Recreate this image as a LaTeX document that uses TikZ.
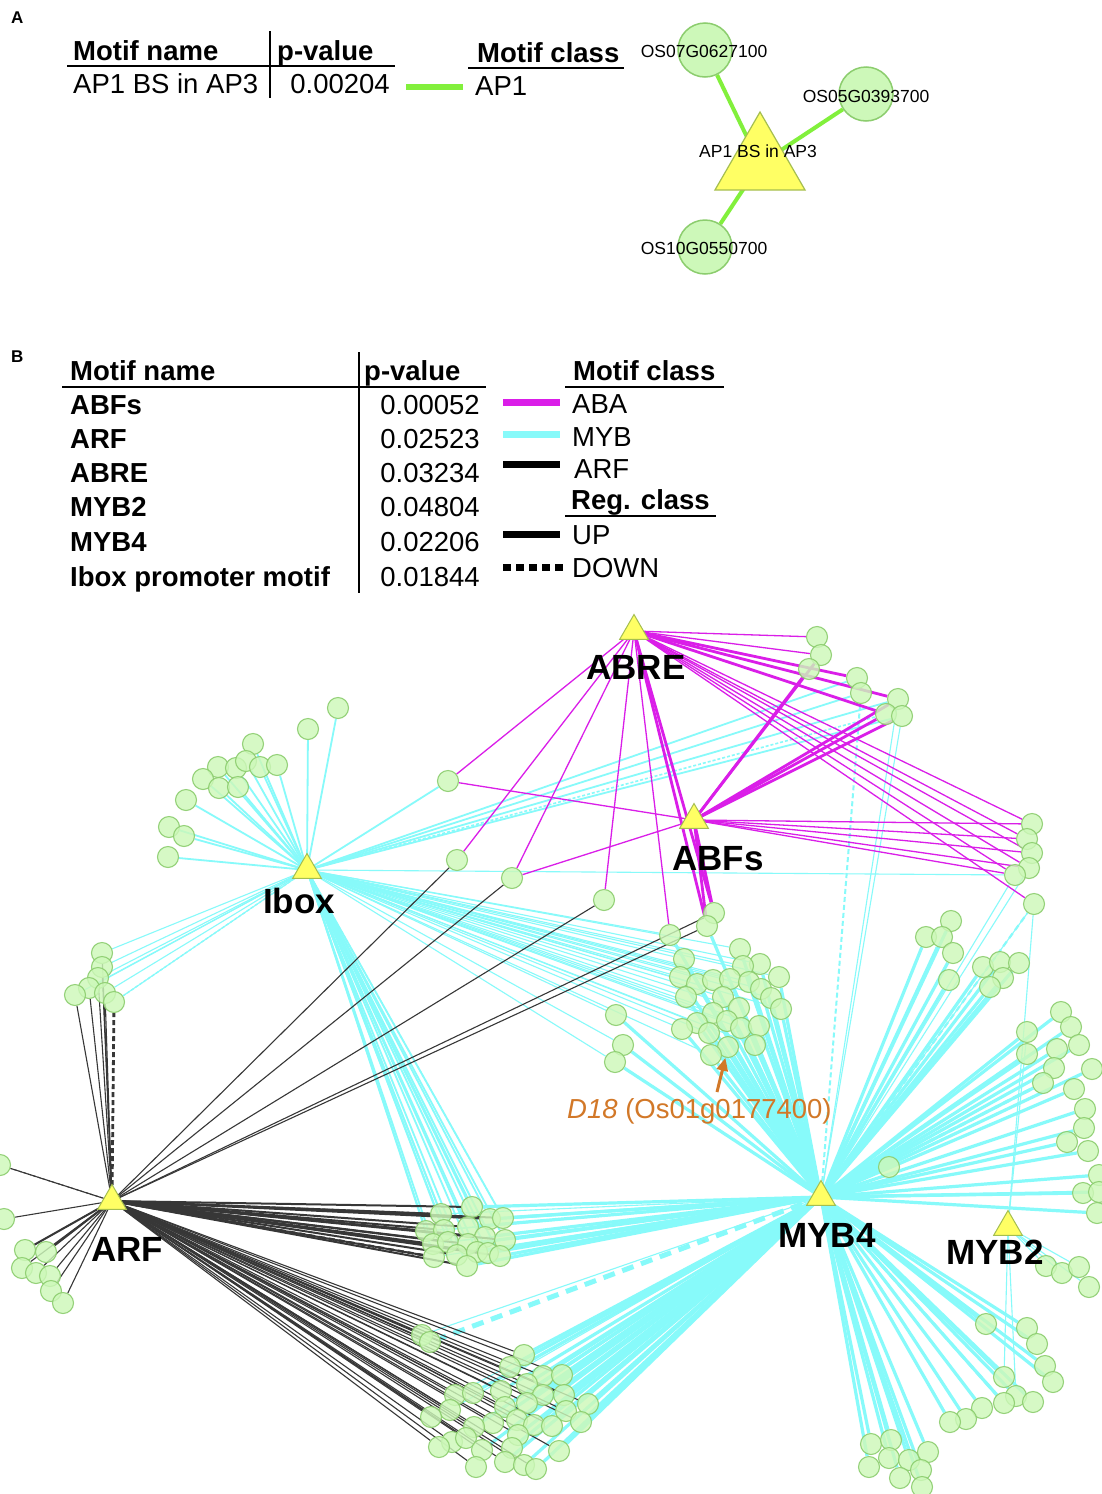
\documentclass[tikz,border=0pt]{standalone}
\usepackage{fontspec}
\setmainfont{Liberation Sans}
\usetikzlibrary{shapes.geometric,backgrounds,arrows.meta}
\pgfdeclarelayer{bottom}
\pgfsetlayers{bottom,background,main}
\definecolor{gfill}{RGB}{205,248,185}
\definecolor{gdraw}{RGB}{140,205,110}
\definecolor{tfill}{RGB}{255,255,100}
\definecolor{tdraw}{RGB}{165,190,80}
\definecolor{mag}{RGB}{218,30,232}
\definecolor{cya}{RGB}{135,250,250}
\definecolor{dk}{RGB}{55,55,55}
\definecolor{apg}{RGB}{130,240,60}
\definecolor{org}{RGB}{210,120,40}
\begin{document}
\begin{tikzpicture}[x=1pt,y=-1pt,
 gene/.style={circle,fill=gfill,fill opacity=0.82,draw=gdraw,draw opacity=0.9,line width=1.1pt,minimum size=21pt,inner sep=0},
 bigg/.style={circle,fill=gfill,draw=gdraw,line width=1.5pt,minimum size=54pt,inner sep=0},
 hub/.style={regular polygon,regular polygon sides=3,fill=tfill,draw=tdraw,line width=1pt,minimum size=33pt,inner sep=0},
 bighub/.style={regular polygon,regular polygon sides=3,fill=tfill,draw=tdraw,line width=1.2pt,minimum size=104pt,inner sep=0},
 hd/.style={font=\bfseries\fontsize{27.5}{31}\selectfont,anchor=base west,inner sep=0},
 tx/.style={font=\fontsize{27.5}{31}\selectfont,anchor=base west,inner sep=0},
 txr/.style={font=\fontsize{27.5}{31}\selectfont,anchor=base east,inner sep=0},
 hubl/.style={font=\bfseries\fontsize{35}{38}\selectfont,anchor=base,inner sep=0},
 small/.style={font=\fontsize{17.5}{20}\selectfont,inner sep=0},
 rule/.style={line width=1.6pt,black},
 magt/.style={mag,line width=1.3pt},
 magk/.style={mag,line width=2.8pt},
 cyt/.style={cya,line width=1.1pt},
 cym/.style={cya,line width=1.8pt},
 cyk/.style={cya,line width=3.2pt},
 dkt/.style={dk,line width=1.1pt},
 dkm/.style={dk,line width=2pt}]
\useasboundingbox (0,0) rectangle (1102,1494);
\begin{pgfonlayer}{bottom}
\fill[white] (0,0) rectangle (1102,1494);
\end{pgfonlayer}

% ---------------- Panel A ----------------
\node[font=\bfseries\fontsize{17}{20}\selectfont,anchor=base west,inner sep=0] (labA) at (11,23) {A};
\node[hd] (amn) at (73,60) {Motif name};
\node[hd] (apv) at (277,60) {p-value};
\node[hd] (amc) at (477,62) {Motif class};
\node[tx] (aname) at (73,93) {AP1 BS in AP3};
\node[txr] (apval) at (390,93) {0.00204};
\node[tx] (aclass) at (475,95) {AP1};
\draw[rule] (67,66) -- (395,66);
\draw[rule] (270,31) -- (270,98);
\draw[rule] (468,68) -- (624,68);
\draw[apg,line width=6.5pt] (406,87) -- (463,87);

\node[bigg] (g1) at (705,50) {};
\node[bigg] (g2) at (866,94) {};
\node[bigg] (g3) at (705,247) {};
\node[bighub] (AP) at (760,164) {};
\begin{pgfonlayer}{background}
\foreach \g in {g1,g2,g3} \draw[apg,line width=4pt] (AP.center) -- (\g);
\end{pgfonlayer}
\node[small] (g1l) at (704,51) {OS07G0627100};
\node[small] (g2l) at (866,96) {OS05G0393700};
\node[small] (g3l) at (704,248) {OS10G0550700};
\node[small] (APl) at (758,151) {AP1 BS in AP3};

% ---------------- Panel B table ----------------
\node[font=\bfseries\fontsize{17}{20}\selectfont,anchor=base west,inner sep=0] (labB) at (11,362) {B};
\node[hd] (bmn) at (70,380) {Motif name};
\node[hd] (bpv) at (364,380) {p-value};
\node[hd] (bmc) at (573,380) {Motif class};
\draw[rule] (62,387) -- (486,387);
\draw[rule] (359,352) -- (359,593);
\draw[rule] (565,387) -- (724,387);
\foreach \nm/\pv/\yy in {ABFs/0.00052/414, ARF/0.02523/448, ABRE/0.03234/482, MYB2/0.04804/516, MYB4/0.02206/551, Ibox promoter motif/0.01844/586}{
  \node[hd] at (70,\yy) {\nm};
  \node[txr] at (480,\yy) {\pv};
}
\draw[mag,line width=7pt] (503,402) -- (560,402);
\draw[cya,line width=7pt] (503,434) -- (560,434);
\draw[black,line width=7pt] (503,464) -- (560,464);
\node[tx] (lABA) at (572,413) {ABA};
\node[tx] (lMYB) at (572,446) {MYB};
\node[tx] (lARF) at (574,478) {ARF};
\node[hd] (lreg) at (571,509) {Reg. class};
\draw[rule] (565,516) -- (716,516);
\draw[black,line width=7pt] (503,534) -- (560,534);
\draw[black,line width=7pt,dash pattern=on 8pt off 5pt] (503,567) -- (563,567);
\node[tx] (lUP) at (572,544) {UP};
\node[tx] (lDN) at (572,577) {DOWN};

% ---------------- Panel B network: genes ----------------
\foreach \n/\x/\y in {
 t1/817/637, t2/821/655, t3/809/669, t4/857/678, t5/861/693, t6/898/699, t7/886/714, t8/902/716,
 r1/1032/824, r2/1027/839, r3/1032/853, r4/1029/868, r5/1015/875, r6/1034/904,
 m1/448/781, m2/457/860, m3/512/878, m4/604/900, m5/714/913, m6/707/926, m7/670/935,
 i1/338/708, i2/308/729, i3/253/744, i4/218/767, i5/236/768, i6/246/761, i7/260/767, i8/277/765,
 i9/203/779, i10/219/788, i11/238/787, i12/186/800, i13/169/827, i14/184/836, i15/168/857,
 a1/102/953, a2/102/967, a3/98/978, a4/89/988, a5/75/995, a6/105/993, a7/114/1002,
 l1/0/1165, l2/4/1219, l3/25/1250, l4/46/1252, l5/22/1268, l6/36/1273, l7/50/1276, l8/51/1291, l9/63/1303,
 c1/472/1207, c2/441/1214, c3/490/1219, c4/503/1218, c5/426/1231, c6/444/1230, c7/468/1227, c8/485/1237,
 c9/505/1240, c10/433/1244, c11/448/1242, c12/468/1244, c13/457/1255, c14/477/1252, c15/488/1253,
 c16/500/1256, c17/434/1257, c18/467/1266,
 d1/422/1335, d2/430/1342, d3/524/1355, d4/510/1367, d5/543/1376, d6/562/1375, d7/527/1384, d8/455/1395,
 d9/473/1393, d10/501/1391, d11/543/1395, d12/564/1395, d13/588/1404, d14/505/1407, d15/527/1403,
 d16/566/1411, d17/450/1410, d18/431/1417, d19/493/1423, d20/517/1420, d21/534/1425, d22/552/1426,
 d23/581/1422, d24/474/1427, d25/452/1442, d26/466/1438, d27/518/1435, d28/439/1447, d29/482/1450,
 d30/512/1448, d31/559/1451, d32/476/1467, d33/505/1462, d34/524/1465, d35/536/1469,
 n1/740/949, n2/684/959, n3/760/964, n4/743/966, n5/779/977, n6/680/977, n7/697/984, n8/713/980,
 n9/730/979, n10/749/982, n11/761/989, n12/771/998, n13/781/1009, n14/686/997, n15/723/997,
 n16/739/1008, n17/713/1013, n18/727/1021, n19/741/1028, n20/759/1026, n21/697/1023, n22/682/1029,
 n23/709/1033, n24/728/1047, n25/711/1055, n26/755/1045, n27/616/1015, n28/623/1045, n29/615/1062,
 u1/951/921, u2/926/937, u3/942/937, u4/953/953, u5/949/980, u6/983/967, u7/1000/962, u8/1019/963,
 u9/1003/978, u10/990/987,
 v1/1061/1012, v2/1027/1032, v3/1071/1027, v4/1027/1054, v5/1057/1049, v6/1079/1045, v7/1054/1068,
 v8/1092/1069, v9/1043/1083, v10/1074/1089, v11/1085/1109, v12/1084/1128, v13/1067/1142, v14/1088/1151,
 v15/889/1167, v16/1099/1175, v17/1083/1193, v18/1099/1192, v19/1097/1213,
 w1/1046/1266, w2/1062/1273, w3/1079/1267, w4/1089/1287,
 x1/986/1324, x2/1027/1328, x3/1037/1344, x4/1045/1366, x5/1053/1382, x6/1004/1377, x7/1016/1396,
 x8/1033/1402, x9/1004/1403, x10/982/1408, x11/966/1419, x12/950/1422,
 y1/871/1444, y2/891/1440, y3/869/1467, y4/889/1458, y5/909/1460, y6/928/1452, y7/921/1470,
 y8/900/1478, y9/922/1487}
 \node[gene] (\n) at (\x,\y) {};

% hubs
\node[hub] (ABRE) at (634,631) {};
\node[hub] (ABFs) at (694,820) {};
\node[hub] (Ibox) at (307,870) {};
\node[hub] (ARF) at (112,1201) {};
\node[hub] (MYB4) at (821,1197) {};
\node[hub] (MYB2) at (1008,1227) {};

% ---------------- edges ----------------
\begin{pgfonlayer}{background}
% MYB (cyan)
\foreach \g in {n1,n2,n3,n4,n5,n6,n7,n8,n9,n10,n11,n12,n13,n14,n15,n16,n17,n18,n19,n20,n21,n22,n23,n24,n25,n26,n27,n28,n29,m6,m7,
  u1,u2,u3,u4,u5,u6,u7,u8,u9,u10,v1,v2,v3,v4,v5,v6,v7,v8,v9,v10,v11,v12,v13,v14,v15,v16,v17,v18,v19,
  x1,x2,x3,x4,x5,x6,x7,x8,x9,x10,x11,x12,y1,y2,y3,y4,y5,y6,y7,y8,y9,
  d3,d4,d5,d6,d7,d9,d10,d11,d12,d13,d14,d15,d16,d19,d20,d21,d22,d23,d24,d27,d29,d30,d31,d33,d34,d35,
  c1,c3,c4,c7,c8,c9,c12,c14,c15,c16,c18}
  \draw[cyk] (MYB4.center) -- (\g);
\foreach \g in {r4,r5,r6,t6,t8,d1,d8,d17,c2,c5,c6,c10,c11,c13,c17}
  \draw[cyt] (MYB4.center) -- (\g);
\draw[cya,line width=2pt,dash pattern=on 5pt off 3pt] (MYB4.center) -- (t5);
\draw[cya,line width=5pt,dash pattern=on 12pt off 8pt] (MYB4.center) -- (d2);
\draw[cya,line width=3pt,dash pattern=on 8pt off 5pt] (MYB4.center) -- (x9);
\draw[cya,line width=3pt,dash pattern=on 7pt off 5pt] (MYB4.center) -- (v9);
\draw[cya,line width=2pt,dash pattern=on 3pt off 2pt] (MYB4.center) -- (v5);
\draw[cya,line width=2.2pt,dash pattern=on 6pt off 4pt] (MYB4.center) -- (r6);
\foreach \g in {r6,v2,w1,w2,w3,w4,x6,x7}
  \draw[cyt] (MYB2.center) -- (\g);
\foreach \g in {i1,i2,i3,i4,i5,i6,i7,i8,i9,i10,i11,i12,i13,i14,i15,m1,t4,t5,t6,t8}
  \draw[cym] (Ibox.center) -- (\g);
\foreach \g in {a1,a2,a3,a4,a5,a6,a7,m7,n1,n2,n3,n4,n5,n6,n7,n8,n9,n10,n11,n12,n13,n14,n15,n16,n17,n18,n19,n20,n21,n22,n23,n25,n26,n27,n28,n29,r5}
  \draw[cyt] (Ibox.center) -- (\g);
\foreach \g in {c1,c2,c3,c4,c5,c6,c7,c8,c9,c10,c11,c12,c13,c14,c15,c16,c17,c18}
  \draw[cym] (Ibox.center) -- (\g);
\draw[cya,line width=1.6pt,dash pattern=on 3pt off 2pt] (Ibox.center) -- (t7);
\draw[cya,line width=1.4pt,dash pattern=on 3pt off 2pt] (Ibox.center) -- (a7);
\draw[cya,line width=1.4pt,dash pattern=on 3pt off 2pt] (Ibox.center) -- (c4);
\draw[cya,line width=1.4pt,dash pattern=on 3pt off 2pt] (Ibox.center) -- (i11);
% ARF (dark)
\foreach \g in {a1,a2,a3,a4,a5,a6,l1,l2,l3,l4,l5,l6,l7,l8,l9,m2,m3,m4,m5,m6,
  d1,d2,d3,d4,d5,d6,d7,d8,d9,d10,d11,d12,d13,d14,d15,d16,d17,d18,d19,d20,d21,d22,d23,d24,d25,d26,d27,d28,d29,d30,d31,d32,d33,d34,d35}
  \draw[dkt] (ARF.center) -- (\g);
\foreach \g in {c1,c2,c3,c4,c5,c6,c7,c8,c9,c10,c11,c12,c13,c14,c15,c16,c17,c18,l3,l4}
  \draw[dkm] (ARF.center) -- (\g);
\draw[dk,line width=2.8pt,dash pattern=on 5pt off 3pt] (ARF.center) -- (a7);
\draw[dk,line width=2.5pt,dash pattern=on 6pt off 4pt] (ARF.center) -- (c17);
\draw[dk,line width=1.6pt,dash pattern=on 3pt off 2pt] (ARF.center) -- (c2);
\draw[dk,line width=1pt,dash pattern=on 3pt off 2pt] (ARF.center) -- (l1);
% ABA (magenta)
\foreach \g in {m1,m2,m3,m4,m7,t1,t2,r1,r2,r3,r4,r5,r6}
  \draw[magt] (ABRE.center) -- (\g);
\foreach \g in {m5,m6,t4,t6,t7}
  \draw[magk] (ABRE.center) -- (\g);
\foreach \g in {m1,m3,r1,r2,r3,r4,r5}
  \draw[magt] (ABFs.center) -- (\g);
\foreach \g in {t2,t3,t6,t7,t8,m5,m6}
  \draw[magk] (ABFs.center) -- (\g);
\end{pgfonlayer}

% hub labels
\node[hubl] (ABREl) at (636,679) {ABRE};
\node[hubl] (ABFsl) at (718,870) {ABFs};
\node[hubl] (Iboxl) at (299,913) {Ibox};
\node[hubl] (ARFl) at (127,1261) {ARF};
\node[hubl] (MYB4l) at (827,1247) {MYB4};
\node[hubl] (MYB2l) at (995,1264) {MYB2};

% D18 annotation
\node[tx,text=org] (d18l) at (567,1118) {\textit{D18} (Os01g0177400)};
\coordinate (d18t) at (717,1092);
\draw[org,line width=3pt,-{Triangle[length=13pt,width=11pt]}] (d18t) -- (n24);
\end{tikzpicture}
\end{document}
